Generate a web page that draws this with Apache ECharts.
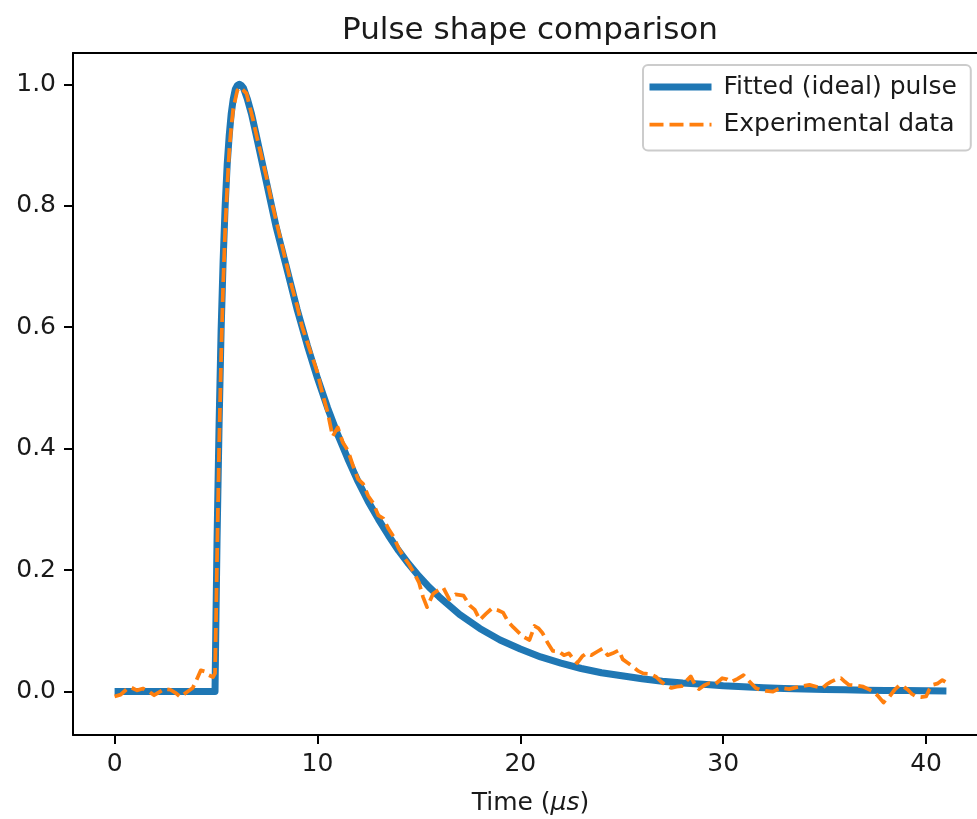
<!DOCTYPE html>
<html>
<head>
<meta charset="utf-8">
<script src="https://cdn.jsdelivr.net/npm/echarts@6/dist/echarts.min.js"></script>
<style>
html,body{margin:0;padding:0;background:#fff;}
#chart{width:977px;height:819px;}
</style>
</head>
<body>
<div id="chart"></div>
<script>
// ---- Data ----
const titleText = 'Pulse shape comparison';
const seriesNames = ['Fitted (ideal) pulse', 'Experimental data'];
const xTicks = [0, 10, 20, 30, 40];
const yTicks = [0.0, 0.2, 0.4, 0.6, 0.8, 1.0];

// Fitted (ideal) pulse: [time (µs), amplitude]
const fittedPulse = [
  [0,0],[4.95,0],[5.0,0.13],[5.05,0.25],[5.15,0.44],[5.25,0.595],[5.35,0.71],[5.45,0.80],
  [5.55,0.868],[5.65,0.916],[5.75,0.952],[5.85,0.976],[5.95,0.992],[6.05,0.998],[6.15,1.0],
  [6.25,0.998],[6.35,0.994],[6.55,0.975],[6.75,0.951],[6.95,0.921],[7.45,0.844],[7.95,0.767],
  [8.5,0.695],[9.0,0.629],[9.5,0.57],[10.0,0.516],[10.5,0.467],[11.0,0.423],[11.5,0.383],
  [12.0,0.346],[12.5,0.313],[13.0,0.284],[13.5,0.257],[14.0,0.232],[14.5,0.21],[15.0,0.19],
  [15.5,0.172],[16.0,0.156],[17.0,0.127],[18.0,0.104],[19.0,0.085],[20.0,0.070],[21.0,0.057],
  [22.0,0.047],[23.0,0.038],[24.0,0.031],[25.0,0.026],[26.0,0.021],[27.0,0.017],[28.0,0.014],
  [29.0,0.012],[30.0,0.0095],[31,0.0078],[32,0.0064],[33,0.0052],[34,0.0043],[35,0.0035],
  [36,0.0029],[37,0.0023],[38,0.0019],[39,0.0016],[40,0.0013],[41,0.001]
];

// Experimental data: [time (µs), amplitude]
const experimentalData = [
  [0.0,-0.008],[0.3,-0.005],[0.6,0.004],[0.8,0.007],[1.1,0.002],[1.4,0.005],[1.7,0.0],
  [1.95,-0.006],[2.2,-0.001],[2.45,0.004],[2.75,0.003],[3.0,-0.002],[3.25,-0.009],[3.55,-0.001],
  [3.85,0.006],[4.05,0.02],[4.25,0.035],[4.45,0.033],[4.65,0.027],[4.85,0.024],[4.95,0.03],
  [5.0,0.12],[5.05,0.22],[5.15,0.40],[5.25,0.55],[5.35,0.67],[5.45,0.76],[5.55,0.83],
  [5.65,0.89],[5.75,0.93],[5.85,0.96],[5.95,0.975],[6.05,0.99],[6.2,0.995],[6.35,0.99],
  [6.5,0.985],[6.65,0.965],[6.8,0.945],[7.0,0.915],[7.25,0.88],[7.5,0.845],[7.75,0.805],
  [8.0,0.77],[8.25,0.735],[8.5,0.70],[8.75,0.665],[9.0,0.635],[9.25,0.60],[9.5,0.575],
  [9.75,0.55],[10.0,0.525],[10.25,0.49],[10.5,0.46],[10.75,0.42],[11.0,0.435],[11.25,0.41],
  [11.5,0.397],[11.75,0.372],[12.0,0.35],[12.25,0.342],[12.5,0.322],[12.75,0.31],[13.0,0.29],
  [13.25,0.285],[13.5,0.268],[13.75,0.255],[14.0,0.236],[14.25,0.222],[14.5,0.21],[14.75,0.196],
  [15.0,0.18],[15.2,0.156],[15.4,0.139],[15.7,0.161],[16.0,0.168],[16.2,0.171],[16.5,0.152],
  [16.8,0.16],[17.2,0.158],[17.5,0.142],[17.75,0.135],[18.0,0.118],[18.3,0.128],[18.6,0.137],
  [18.9,0.134],[19.15,0.13],[19.4,0.115],[19.65,0.106],[19.9,0.098],[20.15,0.09],[20.45,0.085],
  [20.7,0.108],[20.9,0.104],[21.1,0.096],[21.35,0.08],[21.6,0.067],[21.9,0.066],[22.15,0.06],
  [22.4,0.063],[22.6,0.054],[22.8,0.047],[23.05,0.058],[23.25,0.063],[23.5,0.06],[23.8,0.066],
  [24.05,0.071],[24.3,0.06],[24.55,0.063],[24.85,0.068],[25.05,0.053],[25.3,0.047],[25.55,0.041],
  [25.8,0.034],[26.05,0.03],[26.4,0.029],[26.7,0.024],[26.95,0.016],[27.2,0.01],[27.45,0.006],
  [27.7,0.008],[27.95,0.009],[28.2,0.018],[28.4,0.025],[28.6,0.012],[28.8,0.004],[29.05,0.01],
  [29.3,0.014],[29.6,0.012],[29.95,0.022],[30.2,0.02],[30.4,0.016],[30.7,0.021],[31.0,0.027],
  [31.2,0.02],[31.4,0.013],[31.6,0.006],[31.8,0.003],[32.1,0.001],[32.45,0.0],[32.7,0.004],
  [32.9,0.006],[33.25,0.004],[33.6,0.007],[33.9,0.009],[34.25,0.011],[34.6,0.008],[34.9,0.006],
  [35.1,0.012],[35.3,0.016],[35.55,0.02],[35.8,0.022],[36.0,0.016],[36.2,0.011],[36.55,0.01],
  [36.9,0.008],[37.15,0.004],[37.4,0.0],[37.65,-0.008],[37.9,-0.018],[38.05,-0.012],[38.2,-0.008],
  [38.45,0.003],[38.7,0.011],[38.9,0.008],[39.1,0.003],[39.3,-0.004],[39.5,-0.008],[39.75,-0.009],
  [40.0,-0.008],[40.15,0.003],[40.3,0.011],[40.55,0.013],[40.8,0.019],[40.95,0.016]
];

// ---- Chart ----
const FONT = 'DejaVu Sans';
const TXT = '#1a1a1a';
const X_MIN = -2.05, X_MAX = 43.05;   // axes run past the right edge of the picture (cropped)
const Y_MIN = -0.0715, Y_MAX = 1.0515;
const chart = echarts.init(document.getElementById('chart'), null, {renderer: 'canvas'});

chart.setOption({
  animation: false,
  backgroundColor: '#ffffff',
  title: {
    text: titleText,
    left: 525,
    textAlign: 'center',
    top: 10,
    textStyle: {fontFamily: FONT, fontSize: 31, fontWeight: 'normal', color: TXT}
  },
  grid: {left: 73, top: 53, width: 915, height: 682, show: false,
         containLabel: false, outerBoundsMode: 'none'},
  legend: {
    data: [
      {name: seriesNames[0], itemStyle: {opacity: 0}, lineStyle: {width: 7}},
      {name: seriesNames[1], itemStyle: {opacity: 0}, lineStyle: {width: 3.75}}
    ],
    orient: 'vertical',
    left: 643, top: 65,
    padding: [8, 14, 12, 3],
    itemGap: 9.5,
    itemWidth: 62,
    itemHeight: 28,
    backgroundColor: 'rgba(255,255,255,0.8)',
    borderColor: '#cccccc',
    borderWidth: 2,
    borderRadius: 5,
    textStyle: {fontFamily: FONT, fontSize: 25, color: TXT, lineHeight: 28, padding: [0, 0, 0, 7]}
  },
  xAxis: [
    {
      type: 'value',
      min: X_MIN, max: X_MAX,
      name: 'Time ({i|µs})',
      nameLocation: 'middle',
      nameGap: 56,
      nameTextStyle: {
        fontFamily: FONT, fontSize: 25, color: TXT,
        rich: {i: {fontFamily: FONT, fontSize: 25, fontStyle: 'italic', color: TXT}}
      },
      axisLine: {show: true, onZero: false, lineStyle: {color: '#000', width: 2}},
      axisTick: {show: true, length: 9, lineStyle: {color: '#000', width: 2}, customValues: xTicks},
      axisLabel: {show: true, margin: 17, fontFamily: FONT, fontSize: 25, color: TXT, customValues: xTicks,
        formatter: v => String(Math.round(v))},
      splitLine: {show: false}
    },
    {
      type: 'value',
      position: 'top',
      min: X_MIN, max: X_MAX,
      axisLine: {show: true, onZero: false, lineStyle: {color: '#000', width: 2}},
      axisTick: {show: false},
      axisLabel: {show: false},
      splitLine: {show: false}
    }
  ],
  yAxis: {
    type: 'value',
    min: Y_MIN, max: Y_MAX,
    axisLine: {show: true, onZero: false, lineStyle: {color: '#000', width: 2}},
    axisTick: {show: true, length: 9, lineStyle: {color: '#000', width: 2}, customValues: yTicks},
    axisLabel: {show: true, margin: 17, fontFamily: FONT, fontSize: 25, color: TXT, customValues: yTicks,
      formatter: v => v.toFixed(1)},
    splitLine: {show: false}
  },
  series: [
    {
      name: seriesNames[0],
      type: 'line',
      xAxisIndex: 0,
      data: fittedPulse,
      showSymbol: false,
      symbol: 'none',
      smooth: false,
      clip: true,
      lineStyle: {color: '#1f77b4', width: 7, cap: 'butt', join: 'round'},
      itemStyle: {color: '#1f77b4'},
      z: 2
    },
    {
      name: seriesNames[1],
      type: 'line',
      xAxisIndex: 0,
      data: experimentalData,
      showSymbol: false,
      symbol: 'none',
      smooth: false,
      clip: true,
      lineStyle: {color: '#ff7f0e', width: 3.75, type: [14, 6], cap: 'butt', join: 'round'},
      itemStyle: {color: '#ff7f0e'},
      z: 3
    }
  ]
});
</script>
</body>
</html>
